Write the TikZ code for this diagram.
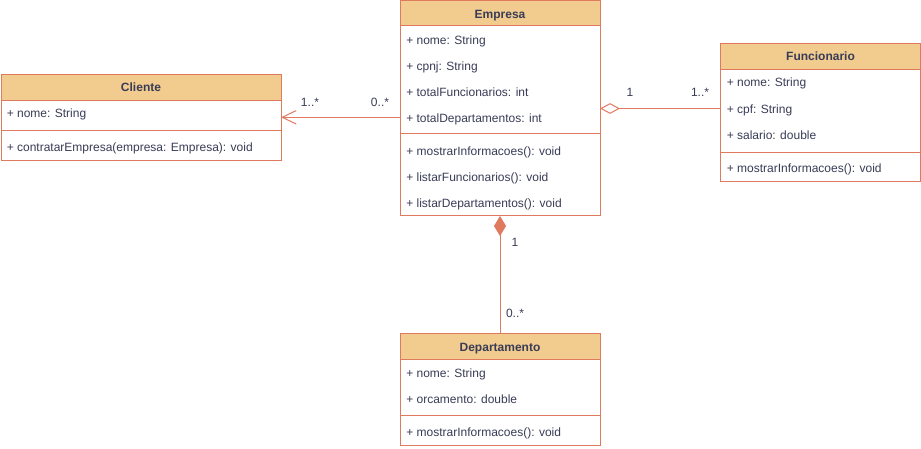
\documentclass[tikz,border=0pt]{standalone}
\usepackage{fontspec}
\setmainfont{Liberation Sans}
\usetikzlibrary{arrows.meta}
\definecolor{headc}{HTML}{F2CC8F}
\definecolor{strokec}{HTML}{E07A5F}
\definecolor{textc}{HTML}{393C56}
\tikzset{
  box/.style={fill=white, inner sep=0pt, outer sep=0pt},
  outline/.style={draw=strokec, line width=0.75pt},
  attr/.style={anchor=base west, inner sep=0pt, text=textc, font=\fontsize{9}{11}\selectfont},
  title/.style={anchor=base, inner sep=0pt, text=textc, font=\fontsize{9}{11}\selectfont\bfseries},
  mult/.style={anchor=base, inner sep=0pt, text=textc, font=\fontsize{9}{11}\selectfont},
  conn/.style={draw=strokec, line width=0.75pt},
}
\begin{document}
\begin{tikzpicture}[x=0.75pt,y=-0.75pt]
\useasboundingbox (0,0) rectangle (921,449);
\fill[white] (0,0) rectangle (921,449);

% ---------- Empresa ----------
\node[box, minimum width=150pt, minimum height=161.25pt] (empresa) at (500,108.5) {};
\fill[headc] (400,1) rectangle (600,26);
\draw[outline] (400,26) -- (600,26);
\draw[outline] (400,134) -- (600,134);
\draw[outline] (empresa.north west) rectangle (empresa.south east);
\node[title] (empresaT) at (500,18.3) {Empresa};
\node[attr] (e1) at (406,44.3) {+ nome: String};
\node[attr] (e2) at (406,70.3) {+ cpnj: String};
\node[attr] (e3) at (406,96.3) {+ totalFuncionarios: int};
\node[attr] (e4) at (406,122.3) {+ totalDepartamentos: int};
\node[attr] (e5) at (406,156) {+ mostrarInformacoes(): void};
\node[attr] (e6) at (406,182) {+ listarFuncionarios(): void};
\node[attr] (e7) at (406,208) {+ listarDepartamentos(): void};

% ---------- Cliente ----------
\node[box, minimum width=210pt, minimum height=64.5pt] (cliente) at (141,117.3) {};
\fill[headc] (1,74.3) rectangle (281,100.7);
\draw[outline] (1,100.7) -- (281,100.7);
\draw[outline] (1,130.7) -- (281,130.7);
\draw[outline] (cliente.north west) rectangle (cliente.south east);
\node[title] (clienteT) at (141,91.6) {Cliente};
\node[attr] (c1) at (6.5,117.6) {+ nome: String};
\node[attr] (c2) at (6.5,152) {+ contratarEmpresa(empresa: Empresa): void};

% ---------- Funcionario ----------
\node[box, minimum width=149.7pt, minimum height=103.8pt] (funcionario) at (820.5,112.5) {};
\fill[headc] (720.7,43.3) rectangle (920.3,69.3);
\draw[outline] (720.7,69.3) -- (920.3,69.3);
\draw[outline] (720.7,152.3) -- (920.3,152.3);
\draw[outline] (funcionario.north west) rectangle (funcionario.south east);
\node[title] (funcionarioT) at (820.5,60.3) {Funcionario};
\node[attr] (f1) at (726.5,87) {+ nome: String};
\node[attr] (f2) at (726.5,113.3) {+ cpf: String};
\node[attr] (f3) at (726.5,139.3) {+ salario: double};
\node[attr] (f4) at (726.5,172.6) {+ mostrarInformacoes(): void};

% ---------- Departamento ----------
\node[box, minimum width=150pt, minimum height=84.3pt] (departamento) at (500,389.5) {};
\fill[headc] (400,333.3) rectangle (600,359.3);
\draw[outline] (400,359.3) -- (600,359.3);
\draw[outline] (400,415.7) -- (600,415.7);
\draw[outline] (departamento.north west) rectangle (departamento.south east);
\node[title] (departamentoT) at (500,351) {Departamento};
\node[attr] (d1) at (406,377) {+ nome: String};
\node[attr] (d2) at (406,403.3) {+ orcamento: double};
\node[attr] (d3) at (406,436.6) {+ mostrarInformacoes(): void};

% ---------- Connectors ----------
\draw[conn, -{Straight Barb[length=10.5pt,width=10pt]}] (empresa.west |- cliente.east) -- (cliente.east);
\draw[conn, {Diamond[fill=white,length=15pt,width=8pt]}-] (empresa.east) -- (funcionario.west |- empresa.east);
\draw[conn, {Diamond[length=15pt,width=9pt]}-] (empresa.south) -- (departamento.north);

% ---------- Multiplicities ----------
\node[mult] (m1) at (310,107) {1..*};
\node[mult] (m2) at (380,107) {0..*};
\node[mult] (m3) at (630,97) {1};
\node[mult] (m4) at (700,97) {1..*};
\node[mult] (m5) at (515,247) {1};
\node[mult] (m6) at (515,317.6) {0..*};
\end{tikzpicture}
\end{document}
